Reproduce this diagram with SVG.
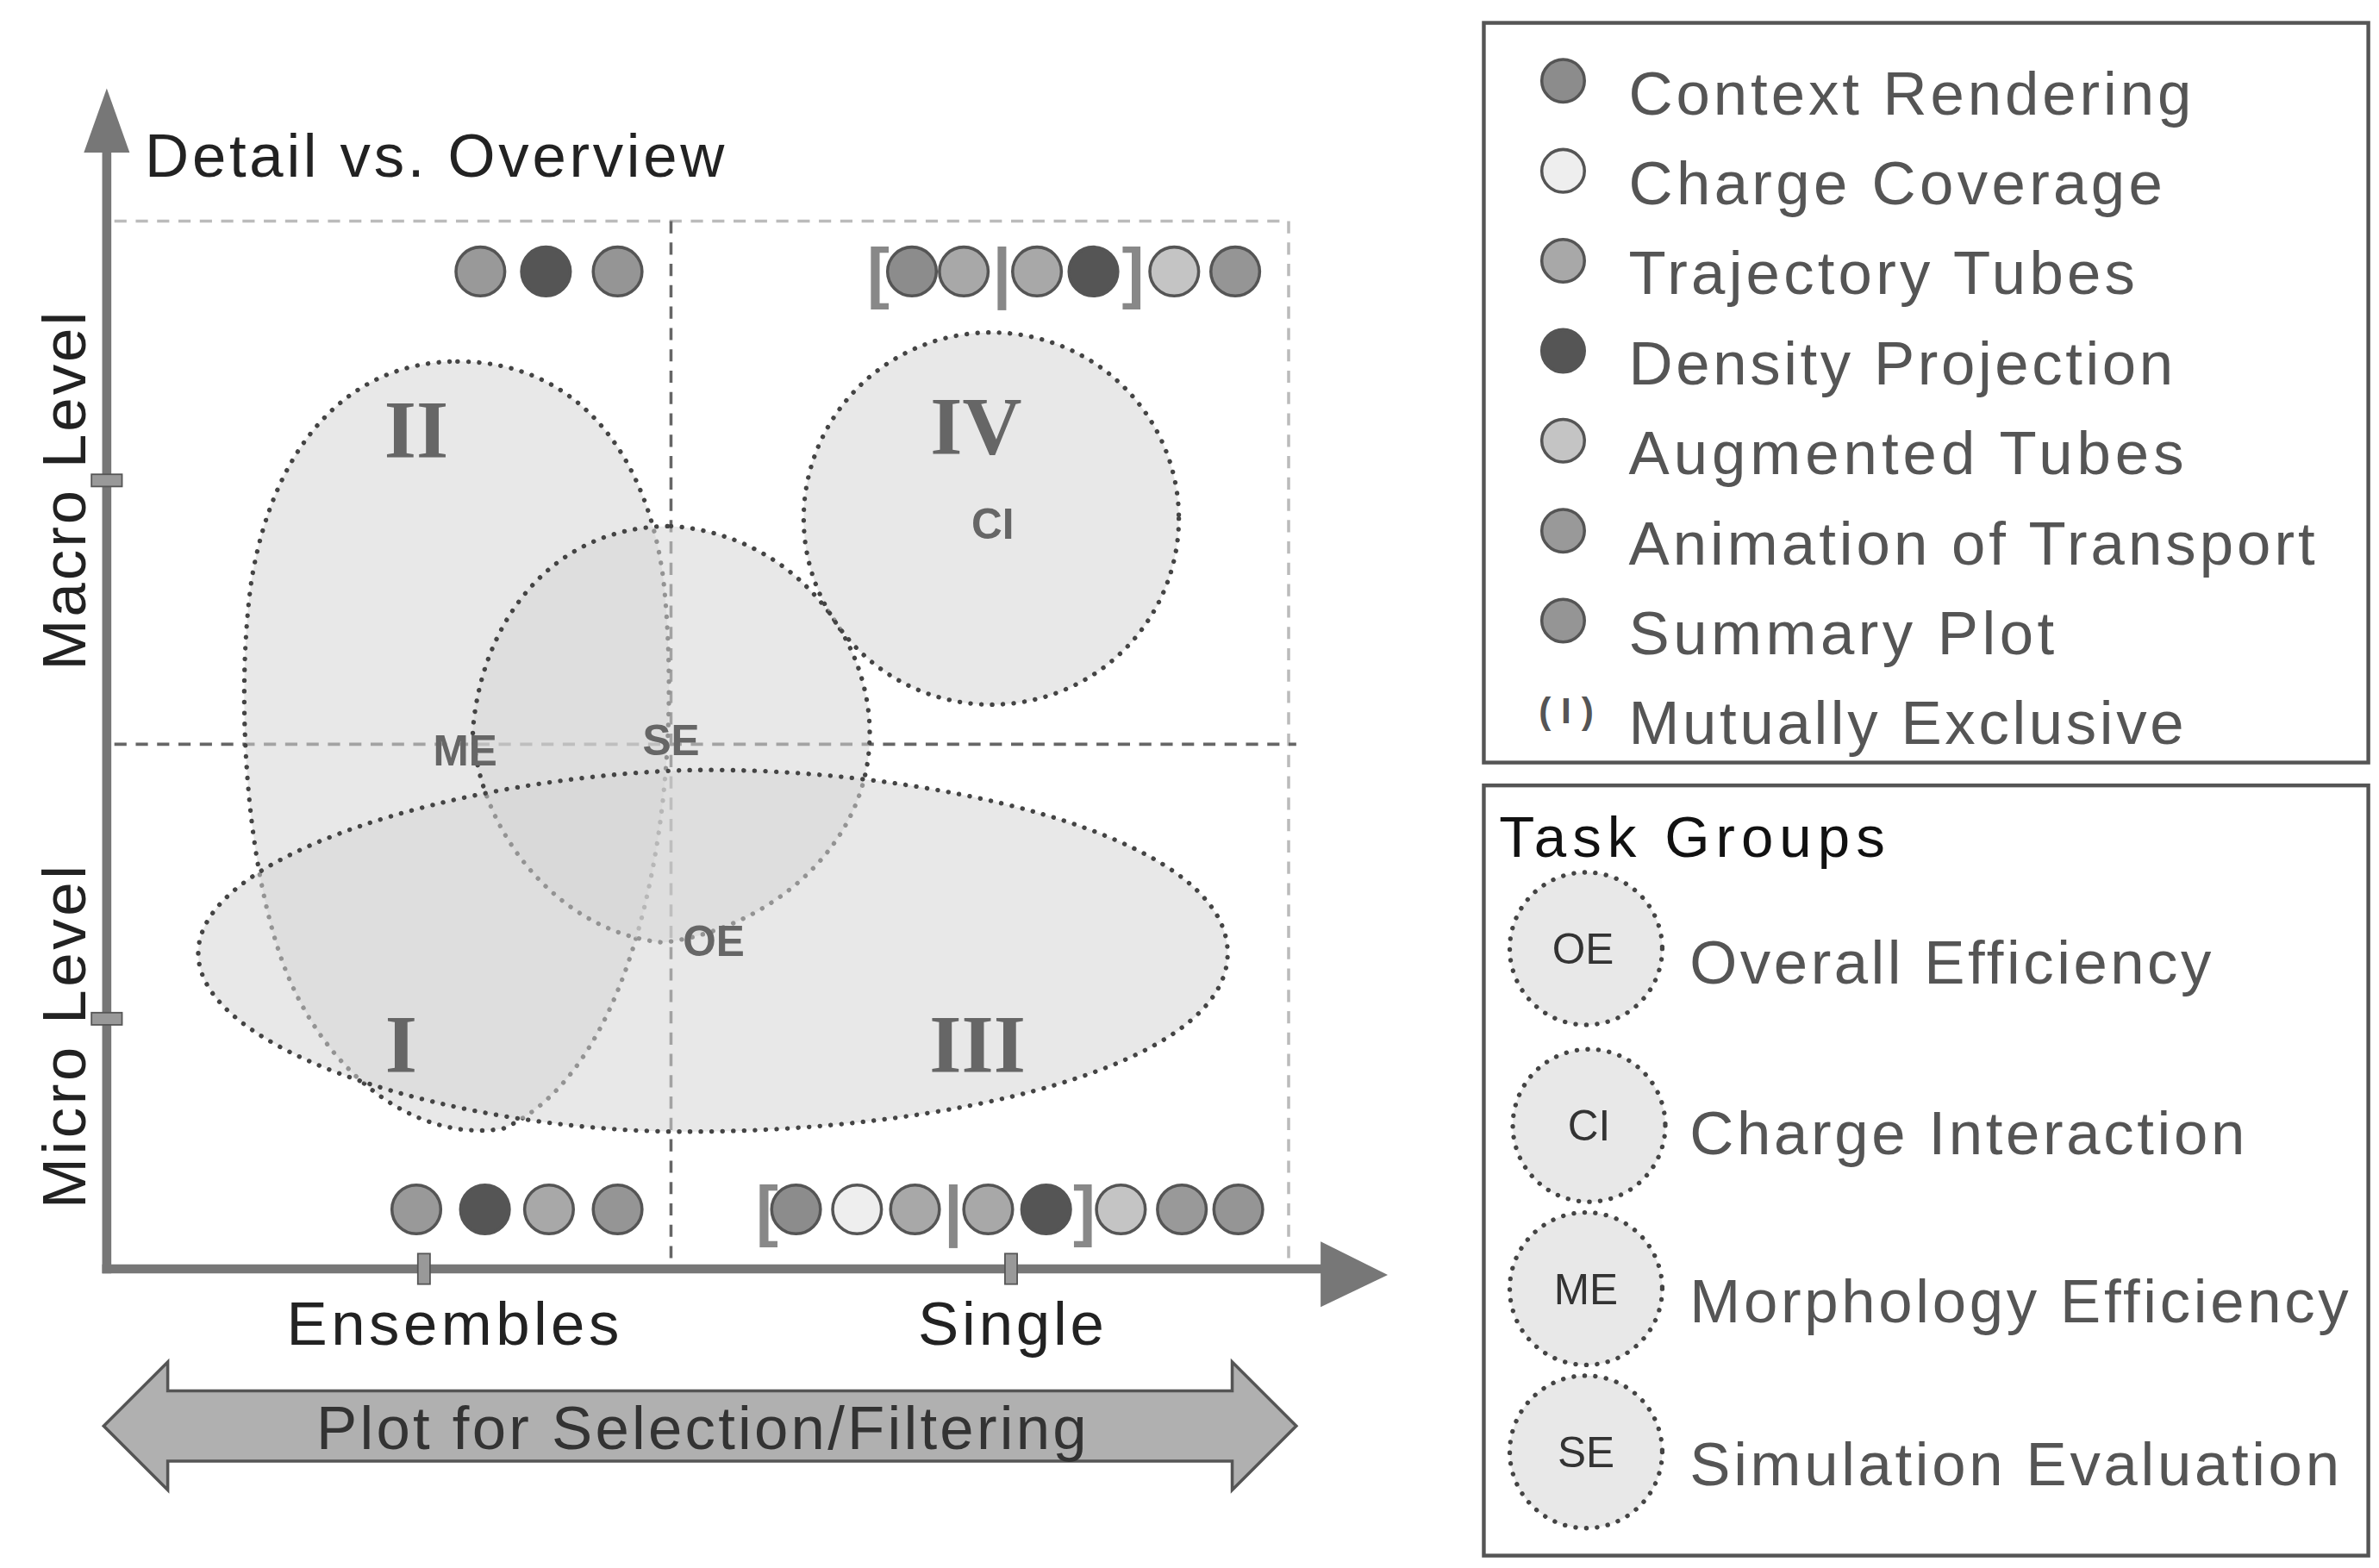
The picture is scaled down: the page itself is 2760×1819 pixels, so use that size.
<svg xmlns="http://www.w3.org/2000/svg" width="2760" height="1819" viewBox="0 0 2760 1819">
<style>
text{font-family:"Liberation Sans",Arial,sans-serif}
.lbl{font-size:40px;fill:#333}
.leg{font-size:40px;fill:#555}
.tg{font-size:40px;fill:#555}
.blob{fill:#d6d6d6;fill-opacity:.55;stroke:#444;stroke-width:3;stroke-dasharray:0.1 7;stroke-linecap:round}
.rom{font-family:"Liberation Serif",serif;font-weight:bold;font-size:54px;fill:#666;text-anchor:middle}
.abbr{font-weight:bold;font-size:28px;fill:#666;text-anchor:middle}
.c{stroke:#555;stroke-width:2}
.cr{fill:#8c8c8c}.cc{fill:#eee}.tt{fill:#a8a8a8}.dp{fill:#555}.at{fill:#c4c4c4}.an{fill:#999}.sp{fill:#959595}
.br{font-size:44px;fill:#888;text-anchor:middle;font-weight:bold}
.box{fill:none;stroke:#555;stroke-width:2.5}
</style>
<rect width="2760" height="1819" fill="#fff"/>
<g transform="scale(1.76923)">
<g id="grid">
<path d="M75 145H845V830" fill="none" stroke="#bbb" stroke-width="2" stroke-dasharray="8 6"/>
<line x1="440" y1="145" x2="440" y2="830" stroke="#666" stroke-width="2" stroke-dasharray="8 6"/>
<line x1="75" y1="488" x2="850" y2="488" stroke="#666" stroke-width="2" stroke-dasharray="8 6"/>
</g>
<g id="blobs">
<path id="blob-II" class="blob" d="M300,237 C380,237 425,300 435,380 C450,520 420,700 330,740 C270,750 210,700 185,630 C160,560 155,450 165,380 C180,290 230,237 300,237 Z"/>
<path id="blob-SE" class="blob" d="M440,345 C520,350 575,420 570,490 C565,560 500,610 435,618 C370,612 315,550 310,480 C315,410 360,345 440,345 Z"/>
<path id="blob-OE" class="blob" d="M130,625 C130,560 300,510 450,505 C600,502 805,545 805,625 C805,700 620,742 450,742 C300,742 130,690 130,625 Z"/>
<ellipse id="blob-IV" class="blob" cx="650" cy="340" rx="123" ry="122"/>
</g>
<g id="labels">
<text class="rom" x="273" y="300">II</text>
<text class="rom" x="640" y="298">IV</text>
<text class="rom" x="263" y="703">I</text>
<text class="rom" x="641" y="703">III</text>
<text class="abbr" x="651" y="353">CI</text>
<text class="abbr" x="305" y="502">ME</text>
<text class="abbr" x="440" y="495">SE</text>
<text class="abbr" x="468" y="627">OE</text>
</g>
<g id="axes">
<line x1="70" y1="95" x2="70" y2="835" stroke="#777" stroke-width="6"/>
<polygon points="55,100 70,58 85,100" fill="#777"/>
<line x1="67" y1="832" x2="870" y2="832" stroke="#777" stroke-width="6"/>
<polygon points="866,814 910,836 866,857" fill="#777"/>
<rect x="60" y="311" width="20" height="8" fill="#999" stroke="#555"/>
<rect x="60" y="664" width="20" height="8" fill="#999" stroke="#555"/>
<rect x="274" y="822" width="8" height="20" fill="#999" stroke="#555"/>
<rect x="659" y="822" width="8" height="20" fill="#999" stroke="#555"/>
<text class="lbl" x="95" y="116" textLength="380" style="fill:#222">Detail vs. Overview</text>
<text class="lbl" x="0" y="0" text-anchor="middle" textLength="235" transform="translate(56,322) rotate(-90)" style="fill:#222">Macro Level</text>
<text class="lbl" x="0" y="0" text-anchor="middle" textLength="225" transform="translate(56,680) rotate(-90)" style="fill:#222">Micro Level</text>
<text class="lbl" x="297" y="882" text-anchor="middle" textLength="218" style="fill:#222">Ensembles</text>
<text class="lbl" x="663" y="882" text-anchor="middle" textLength="122" style="fill:#222">Single</text>
</g>
<g id="filter-arrow">
<polygon points="68,935 110,893 110,912 808,912 808,893 850,935 808,977 808,958 110,958 110,977" fill="#b0b0b0" stroke="#555" stroke-width="2"/>
<text class="lbl" x="460" y="950" text-anchor="middle" textLength="505">Plot for Selection/Filtering</text>
</g>
<g id="technique-icons">
<circle class="c an" cx="315" cy="178" r="16"/><circle class="c dp" cx="358" cy="178" r="16"/><circle class="c sp" cx="405" cy="178" r="16"/>
<text class="br" x="576" y="194">[</text>
<circle class="c cr" cx="598" cy="178" r="16"/><circle class="c tt" cx="632" cy="178" r="16"/>
<text class="br" x="657" y="194">|</text>
<circle class="c tt" cx="680" cy="178" r="16"/><circle class="c dp" cx="717" cy="178" r="16"/>
<text class="br" x="743" y="194">]</text>
<circle class="c at" cx="770" cy="178" r="16"/><circle class="c sp" cx="810" cy="178" r="16"/>
<circle class="c an" cx="273" cy="793" r="16"/><circle class="c dp" cx="318" cy="793" r="16"/><circle class="c tt" cx="360" cy="793" r="16"/><circle class="c sp" cx="405" cy="793" r="16"/>
<text class="br" x="503" y="809">[</text>
<circle class="c cr" cx="522" cy="793" r="16"/><circle class="c cc" cx="562" cy="793" r="16"/><circle class="c tt" cx="600" cy="793" r="16"/>
<text class="br" x="625" y="809">|</text>
<circle class="c tt" cx="648" cy="793" r="16"/><circle class="c dp" cx="686" cy="793" r="16"/>
<text class="br" x="711" y="809">]</text>
<circle class="c at" cx="735" cy="793" r="16"/><circle class="c an" cx="775" cy="793" r="16"/><circle class="c sp" cx="812" cy="793" r="16"/>
</g>
<g id="legend">
<rect class="box" x="973" y="15" width="580" height="485"/>
<circle class="c cr" cx="1025" cy="53" r="14"/><text class="leg" x="1068" y="75" textLength="369">Context Rendering</text>
<circle class="c cc" cx="1025" cy="112" r="14"/><text class="leg" x="1068" y="134" textLength="350">Charge Coverage</text>
<circle class="c tt" cx="1025" cy="171" r="14"/><text class="leg" x="1068" y="193" textLength="332">Trajectory Tubes</text>
<circle class="c dp" cx="1025" cy="230" r="14"/><text class="leg" x="1068" y="252" textLength="357">Density Projection</text>
<circle class="c at" cx="1025" cy="289" r="14"/><text class="leg" x="1068" y="311" textLength="364">Augmented Tubes</text>
<circle class="c an" cx="1025" cy="348" r="14"/><text class="leg" x="1068" y="370" textLength="450">Animation of Transport</text>
<circle class="c sp" cx="1025" cy="407" r="14"/><text class="leg" x="1068" y="429" textLength="279">Summary Plot</text>
<text x="1027" y="474" text-anchor="middle" style="font-size:24px;fill:#555;font-weight:bold">( I )</text>
<text class="leg" x="1068" y="488" textLength="364">Mutually Exclusive</text>
</g>
<g id="task-groups">
<rect class="box" x="973" y="515" width="580" height="505"/>
<text x="983" y="562" textLength="253" style="font-size:38px;fill:#111">Task Groups</text>
<circle class="blob" cx="1040" cy="622" r="50"/><text x="1038" y="632" text-anchor="middle" style="font-size:28px;fill:#333">OE</text><text class="tg" x="1108" y="645" textLength="342">Overall Efficiency</text>
<circle class="blob" cx="1042" cy="738" r="50"/><text x="1042" y="748" text-anchor="middle" style="font-size:28px;fill:#333">CI</text><text class="tg" x="1108" y="757" textLength="364">Charge Interaction</text>
<circle class="blob" cx="1040" cy="845" r="50"/><text x="1040" y="855" text-anchor="middle" style="font-size:28px;fill:#333">ME</text><text class="tg" x="1108" y="867" textLength="432">Morphology Efficiency</text>
<circle class="blob" cx="1040" cy="952" r="50"/><text x="1040" y="962" text-anchor="middle" style="font-size:28px;fill:#333">SE</text><text class="tg" x="1108" y="974" textLength="426">Simulation Evaluation</text>
</g>
</g>
</svg>
